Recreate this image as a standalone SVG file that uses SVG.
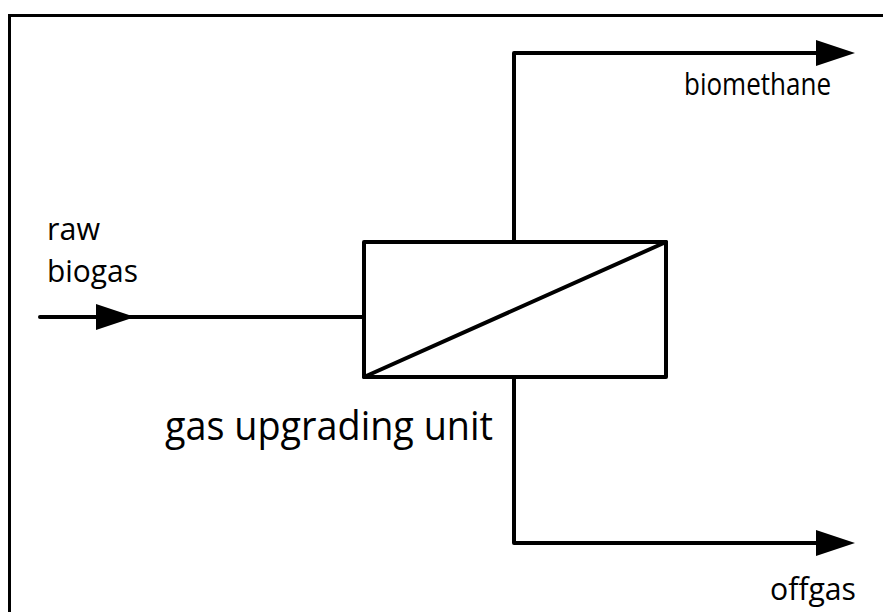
<svg xmlns="http://www.w3.org/2000/svg" width="883" height="612" viewBox="0 0 883 612">
<defs>
<style>
.ln{fill:none;stroke:#000;stroke-width:4;stroke-linecap:round;stroke-linejoin:round}
.t{font-family:"Open Sans","Noto Sans",sans-serif;fill:#000}
.s{font-size:31px}
</style>
</defs>
<rect width="883" height="612" fill="#fff"/>
<path d="M9.5,612 L9.5,15.5 L883,15.5" fill="none" stroke="#000" stroke-width="3"/>
<g id="unit">
<rect class="ln" x="364" y="242" width="302" height="135"/>
<line class="ln" x1="364" y1="377" x2="666" y2="242"/>
<text class="t" x="165" y="440" font-size="40" textLength="328" lengthAdjust="spacingAndGlyphs">gas upgrading unit</text>
</g>
<g id="connectors">
<path class="ln" d="M40,317 L364,317"/>
<path d="M96,304 L135,317 L96,330 Z" fill="#000"/>
<path class="ln" d="M514,242 L514,53 L817,53"/>
<path d="M816,40 L855,53 L816,66 Z" fill="#000"/>
<path class="ln" d="M514,377 L514,543 L817,543"/>
<path d="M816,530 L855,543 L816,556 Z" fill="#000"/>
</g>
<g id="labels">
<text class="t s" x="47" y="240" textLength="53" lengthAdjust="spacingAndGlyphs">raw</text>
<text class="t s" x="47" y="282" textLength="91" lengthAdjust="spacingAndGlyphs">biogas</text>
<text class="t s" x="684" y="95" textLength="147" lengthAdjust="spacingAndGlyphs">biomethane</text>
<text class="t s" x="770" y="600" textLength="86" lengthAdjust="spacingAndGlyphs">offgas</text>
</g>
</svg>
